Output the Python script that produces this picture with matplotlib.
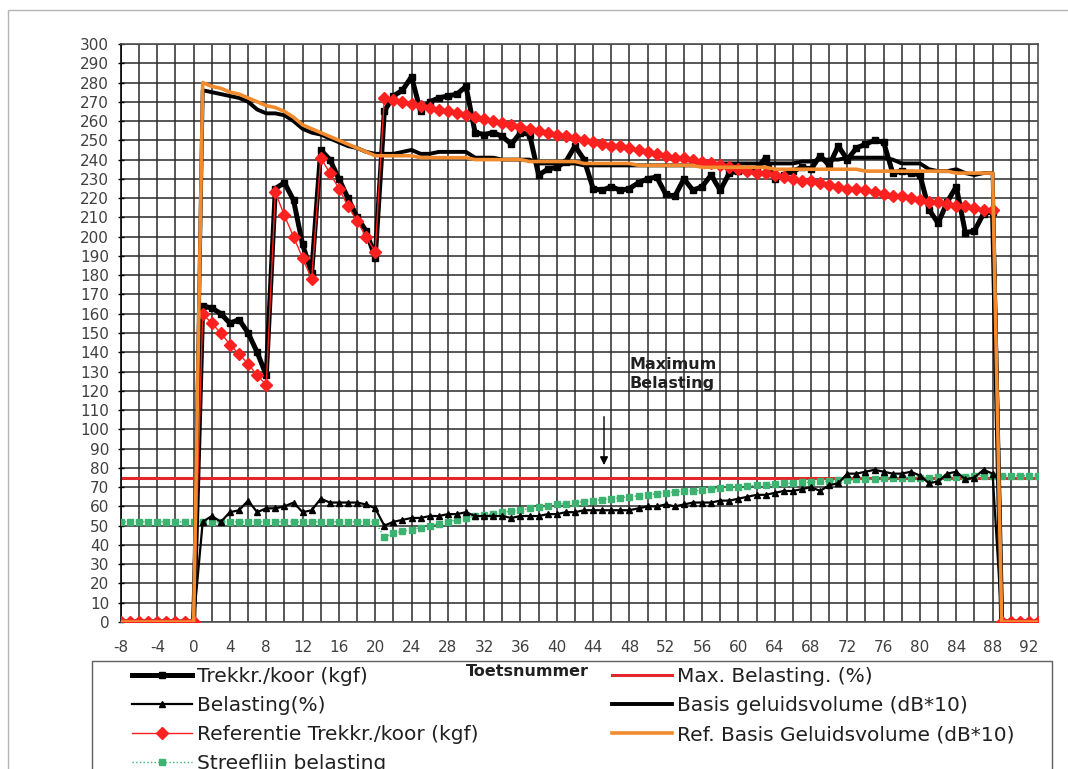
import matplotlib
matplotlib.use("Agg")
import matplotlib.pyplot as plt
from matplotlib.patches import Rectangle
from matplotlib.ticker import MultipleLocator

plt.rcParams["font.family"] = ["DejaVu Sans"]
plt.rcParams["axes.unicode_minus"] = False

# test numbers -8 .. 93
toets = list(range(-8, 94))

trekkracht = ([0] * 9 +
              [164, 163, 160, 155, 157, 150, 140, 128,
               225, 228, 219, 196, 181,
               245, 240, 230, 220, 210, 203, 189,
               265, 273, 276, 283, 265, 270, 272, 273, 274, 278,
               254, 253, 254, 252, 248, 254, 253, 232, 235, 236,
               239, 247, 240, 225, 224, 226, 224, 225, 228, 230,
               231, 222, 221, 230, 224, 226, 232, 224, 233, 234,
               234, 235, 241, 230, 232, 234, 236, 235, 242, 237,
               247, 240, 246, 248, 250, 249, 233, 234, 233, 232,
               214, 207, 218, 226, 202, 203, 212, 213] +
              [0] * 5)

belasting = ([0] * 9 +
             [52, 55, 52, 57, 58, 63, 57, 59, 59, 60,
              62, 57, 58, 64, 62, 62, 62, 62, 61, 59,
              50, 52, 53, 54, 54, 55, 55, 56, 56, 57,
              55, 55, 55, 55, 54, 55, 55, 55, 56, 56,
              57, 57, 58, 58, 58, 58, 58, 58, 59, 60,
              60, 61, 60, 61, 62, 62, 62, 63, 63, 64,
              65, 66, 66, 67, 68, 68, 69, 70, 68, 71,
              72, 77, 77, 78, 79, 78, 77, 77, 78, 76,
              72, 73, 77, 78, 74, 75, 79, 77] +
             [0] * 5)

ref_trekkracht = ([0] * 9 +
                  [160, 155, 150, 144, 139, 134, 128, 123,
                   223, 211, 200, 189, 178,
                   241, 233, 225, 216, 208, 200, 192,
                   272, 271, 270, 269, 268, 267, 266, 265, 264, 263,
                   262, 261, 260, 259, 258, 257, 256, 255, 254, 253,
                   252, 251, 250, 249, 248, 247, 247, 246, 245, 244,
                   243, 242, 241, 241, 240, 239, 238, 237, 236, 235,
                   234, 233, 233, 232, 231, 230, 229, 229, 228, 227,
                   226, 225, 225, 224, 223, 222, 221, 221, 220, 219,
                   218, 218, 217, 216, 216, 215, 214, 214] +
                  [0] * 5)

streeflijn = ([52] * 29 +
              [44, 46, 47, 48, 49, 50, 51, 52, 53, 54,
               55, 55.5, 56, 57, 57.5, 58, 59, 59.5, 60, 61,
               61.5, 62, 62.5, 63, 63.5, 64, 64.5, 65, 65.5, 66,
               66.5, 67, 67.5, 68, 68, 68.5, 69, 69.5, 70, 70,
               70.5, 71, 71, 71.5, 72, 72, 72.5, 72.5, 73, 73,
               73.5, 73.5, 74, 74, 74, 74.5, 74.5, 75, 75, 75,
               75, 75.5, 75.5, 75.5, 75.5, 76, 76, 76,
               76, 76, 76, 76, 76])

max_belasting = 75

basis_geluid = ([0] * 9 +
                [276, 275, 274, 273, 272, 270, 266, 264, 264, 263,
                 260, 256, 254, 253, 251, 249, 247, 246, 244, 243,
                 243, 243, 244, 245, 243, 243, 244, 244, 244, 244,
                 241, 241, 241, 240, 240, 240, 240, 238, 238, 238,
                 238, 238, 237, 237, 237, 237, 237, 237, 237, 237,
                 237, 237, 237, 237, 237, 237, 237, 238, 238, 238,
                 238, 238, 238, 238, 238, 238, 239, 239, 240, 240,
                 240, 241, 241, 241, 241, 241, 240, 238, 238, 238,
                 235, 234, 234, 235, 233, 232, 233, 233] +
                [0] * 5)

ref_basis_geluid = ([0] * 9 +
                    [280, 278, 277, 275, 274, 272, 270, 268, 267, 265,
                     262, 258, 256, 254, 252, 250, 248, 246, 244, 242,
                     242, 242, 242, 242, 241, 241, 241, 241, 241, 241,
                     240, 240, 240, 240, 240, 240, 239, 239, 239, 239,
                     239, 239, 238, 238, 238, 238, 238, 238, 237, 237,
                     237, 237, 237, 237, 237, 236, 236, 236, 236, 236,
                     236, 236, 236, 235, 235, 235, 235, 235, 235, 235,
                     235, 235, 235, 234, 234, 234, 234, 234, 234, 234,
                     234, 234, 234, 233, 233, 233, 233, 233] +
                    [0] * 5)

fig = plt.figure(figsize=(10.68, 7.69), dpi=100)
ax = fig.add_axes([121 / 1068, 1 - 622 / 769, 917 / 1068, 578 / 769])

# series, back to front
l_max, = ax.plot(toets, [max_belasting] * len(toets), color="#e3262b", lw=2.2,
                 zorder=2, label="Max. Belasting. (%)")
l_streef, = ax.plot(toets, streeflijn, color="#3cb371", lw=1.0, ls=":",
                    marker="s", ms=3.8, zorder=3, label="Streeflijn belasting")
l_bel, = ax.plot(toets, belasting, color="black", lw=1.6, marker="^", ms=4.5,
                 zorder=4, label="Belasting(%)")
l_trek, = ax.plot(toets, trekkracht, color="black", lw=3.6, marker="s", ms=4.5,
                  zorder=5, label="Trekkr./koor (kgf)")
l_basis, = ax.plot(toets, basis_geluid, color="black", lw=2.8, zorder=6,
                   label="Basis geluidsvolume (dB*10)")
l_ref, = ax.plot(toets, ref_trekkracht, color="#ff2020", lw=1.0, marker="D",
                 ms=6.5, zorder=7, label="Referentie Trekkr./koor (kgf)")
l_refb, = ax.plot(toets, ref_basis_geluid, color="#f28a2e", lw=2.6, zorder=8,
                  label="Ref. Basis Geluidsvolume (dB*10)")

ax.set_xlim(-8, 93)
ax.set_ylim(0, 300)
ax.xaxis.set_major_locator(MultipleLocator(4))
ax.xaxis.set_minor_locator(MultipleLocator(2))
ax.yaxis.set_major_locator(MultipleLocator(10))
ax.grid(True, which="both", axis="x", color="#2a2a2a", lw=1.1, zorder=1)
ax.grid(True, which="major", axis="y", color="#2a2a2a", lw=1.1, zorder=1)
ax.set_axisbelow(True)
ax.tick_params(axis="y", direction="inout", length=5, width=1, pad=6,
               labelsize=11, labelcolor="#404040")
ax.tick_params(axis="x", which="both", length=0, pad=13, labelsize=11,
               labelcolor="#404040")
for s in ax.spines.values():
    s.set_color("#505050")
    s.set_linewidth(1.2)
ax.spines["left"].set_color("black")

# arrow and label for the maximum load
ax.annotate("", xy=(45.2, 80), xytext=(45.2, 108),
            arrowprops=dict(arrowstyle="-|>", color="black", lw=1.0,
                            mutation_scale=12))
ax.text(48, 137.5, "Maximum\nBelasting", fontsize=11.5, fontweight="bold",
        color="#202020", ha="left", va="top", linespacing=1.35)

fig.text(527 / 1068, 1 - 672 / 769, "Toetsnummer", fontsize=11.5,
         fontweight="bold", color="#202020", ha="center", va="center", zorder=10)

# outer chart border and legend box
fig.patches.append(Rectangle((8 / 1068, -0.1), 1.1, 1 - 10 / 769 + 0.1,
                             transform=fig.transFigure, fill=False,
                             edgecolor="#b5b5b5", lw=1.0, zorder=0))
fig.patches.append(Rectangle((92 / 1068, -0.1), 960 / 1068, 1 - 661 / 769 + 0.1,
                             transform=fig.transFigure, facecolor="white",
                             edgecolor="#606060", lw=1.0, zorder=1))

leg_kw = dict(loc="upper left", frameon=False, fontsize=14.5, handlelength=3.0,
              handletextpad=0.22, labelspacing=0.5, borderpad=0,
              borderaxespad=0, numpoints=1, labelcolor="#202020")
fig.legend(handles=[l_trek, l_bel, l_ref, l_streef],
           bbox_to_anchor=(132 / 1068, 1 - 667 / 769), **leg_kw)
fig.legend(handles=[l_max, l_basis, l_refb],
           bbox_to_anchor=(612 / 1068, 1 - 667 / 769), **leg_kw)

fig.savefig("out.png", dpi=100)
